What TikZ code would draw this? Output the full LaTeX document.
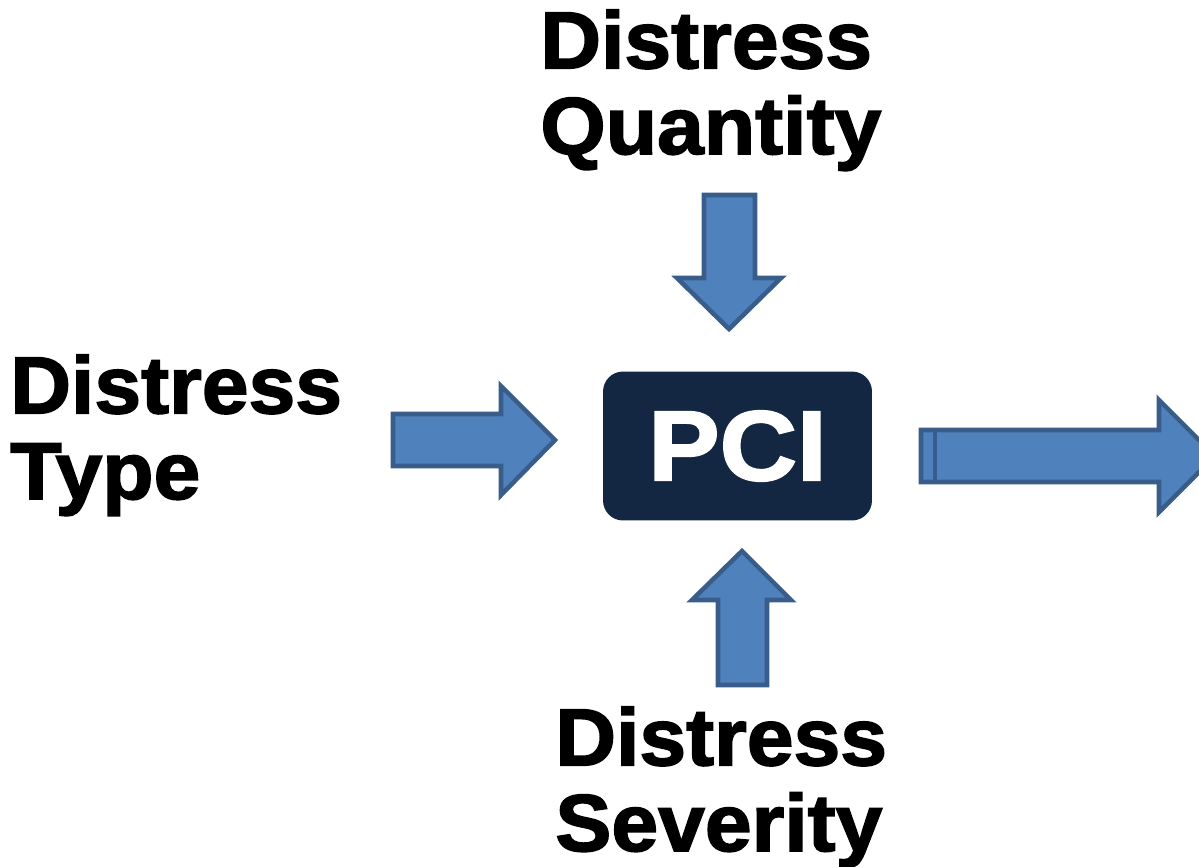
\documentclass[tikz,border=0pt]{standalone}
\usepackage{fontspec}
\usepackage{tikz}
\usetikzlibrary{positioning}
\newfontfamily\labelfont[FakeStretch=1.04, FakeBold=2]{Liberation Sans}
\newfontfamily\pcifont[FakeStretch=1.08, FakeBold=2]{Liberation Sans}
\definecolor{arrowfill}{RGB}{79,129,189}
\definecolor{arrowline}{RGB}{56,93,138}
\definecolor{boxnavy}{RGB}{19,39,66}
\tikzset{
  blockarrow/.style={fill=arrowfill, draw=arrowline, line width=2.6pt, line join=miter},
  factor/.style={inner sep=0pt, anchor=base west, align=left,
    font=\labelfont\bfseries\fontsize{46}{48.8}\selectfont},
}

\begin{document}
\begin{tikzpicture}[x=0.02cm, y=-0.02cm]
        \useasboundingbox (0,0) rectangle (1199,866);

        % Central index box
        \node[fill=boxnavy, rounded corners=0.4cm, minimum width=5.38cm, minimum height=2.98cm,
              text=white, font=\pcifont\bfseries\fontsize{56.5}{60}\selectfont] (pci) at (737.5,446) {PCI};

        % Input labels
        \node[factor] (quantity) at (540,154) {Distress\\Quantity};
        \node[factor] (type) at (10,499) {Distress\\Type};
        \node[factor] (severity) at (555,851) {Distress\\Severity};

        % Arrow from top
        \draw[blockarrow] (704,195) -- (755,195) -- (755,278) -- (781,278) -- (729,329)
            -- (677,278) -- (704,278) -- cycle;

        % Arrow from left
        \draw[blockarrow] (393,414) -- (501,414) -- (501,386) -- (555,440) -- (501,495)
            -- (501,466) -- (393,466) -- cycle;

        % Arrow from bottom
        \draw[blockarrow] (718,685) -- (767,685) -- (767,600) -- (791,600) -- (742,551)
            -- (692,600) -- (718,600) -- cycle;

        % Output arrow
        \draw[blockarrow] (921,430) -- (1159,430) -- (1159,400) -- (1215,456) -- (1159,512)
            -- (1159,482) -- (921,482) -- cycle;
        \draw[arrowline, line width=2.6pt] (935,430) -- (935,482);
    \end{tikzpicture}
\end{document}
